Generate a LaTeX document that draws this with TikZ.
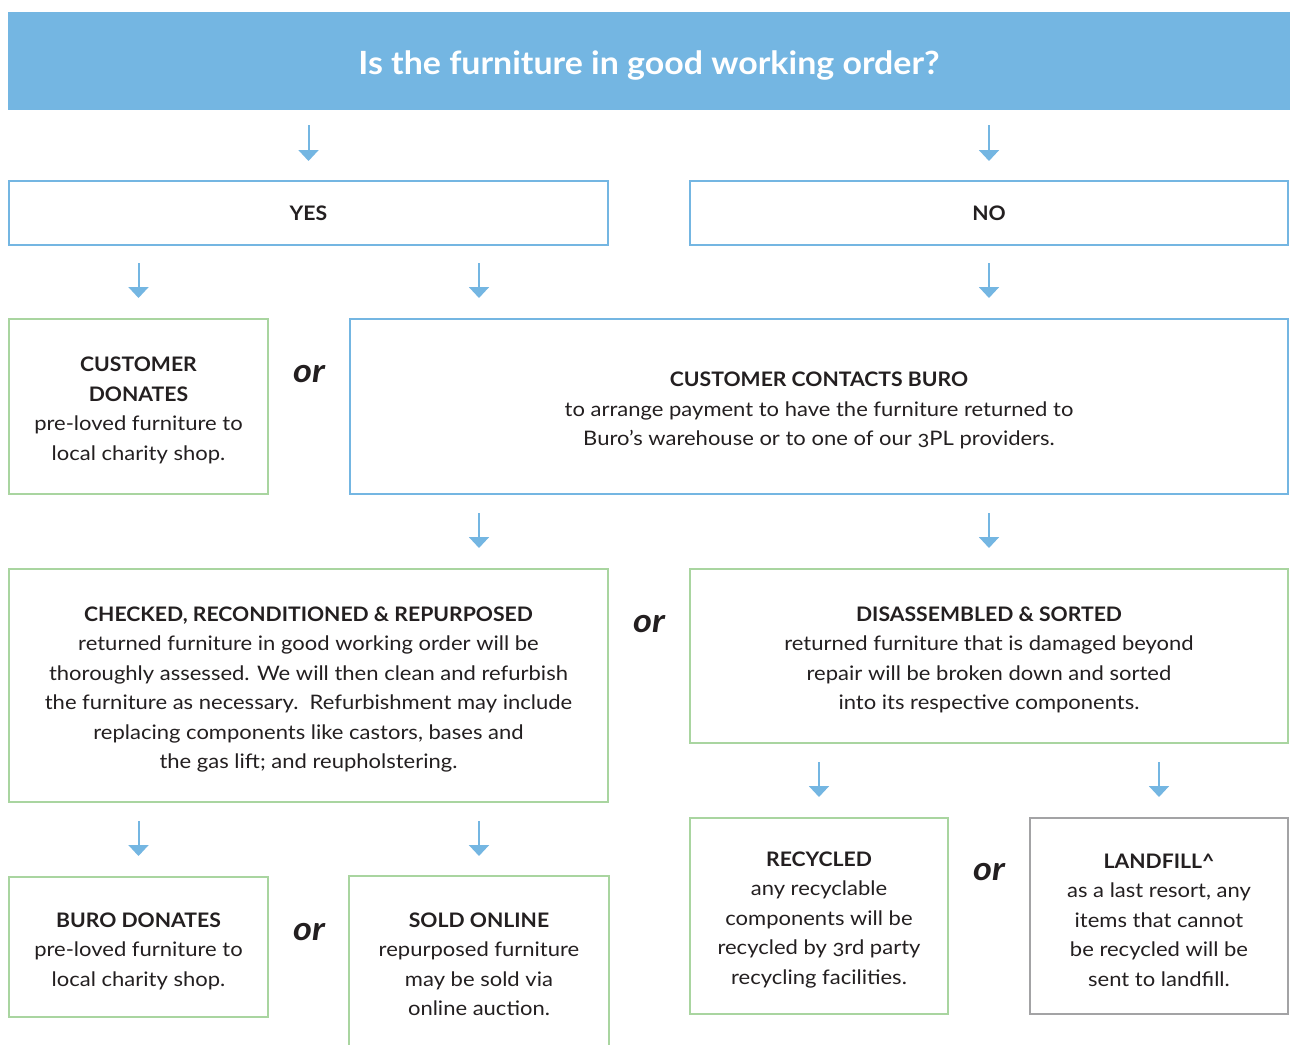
\documentclass[tikz,border=0pt]{standalone}
\usepackage{fontspec}
\setmainfont{Lato}[FakeStretch=1.1,Numbers=OldStyle,BoldFeatures={FakeStretch=1.06},BoldItalicFeatures={FakeStretch=1.1}]
\usetikzlibrary{arrows.meta,calc}
\definecolor{bl}{HTML}{74B6E2}
\definecolor{gr}{HTML}{A9D5A0}
\definecolor{gy}{HTML}{A3A3A5}
\definecolor{tx}{HTML}{231F20}
\newcommand{\topstrut}{\rule{0pt}{22.5pt}}
\begin{document}
\begin{tikzpicture}[x=1pt,y=-1pt,
  box/.style={line width=2pt, fill=white, align=center, text=tx, font=\fontsize{20}{29.5}\selectfont, inner sep=0pt},
  bluebox/.style={box, draw=bl},
  greenbox/.style={box, draw=gr},
  greybox/.style={box, draw=gy},
  arr/.style={draw=bl, line width=2pt, -{Triangle[width=20pt,length=11pt]}},
  ortext/.style={font=\fontsize{33}{33}\selectfont\bfseries\itshape, text=tx, inner sep=0pt}
]
\useasboundingbox (0,0) rectangle (1290,1044);
\fill[white] (0,0) rectangle (1290,1044);

\node[fill=bl, minimum width=1282, minimum height=98, inner sep=0pt, text=white, text depth=0pt, text height=26pt,
  font=\fontsize{32}{36}\selectfont\bfseries] (title) at (649,61) {Is the furniture in good working order?};

\node[bluebox, minimum width=599, minimum height=64] (yes) at (308.5,213) {\textbf{YES}};
\node[bluebox, minimum width=598, minimum height=64] (no) at (989,213) {\textbf{NO}};

\node[greenbox, minimum width=259, minimum height=175] (cd) at (138.5,406.5)
  {\topstrut\textbf{CUSTOMER}\\\textbf{DONATES}\\pre-loved furniture to\\local charity shop.};
\node[bluebox, minimum width=938, minimum height=175] (ccb) at (819,406.5)
  {\topstrut\textbf{CUSTOMER CONTACTS BURO}\\to arrange payment to have the furniture returned to\\Buro’s warehouse or to one of our 3PL providers.};

\node[greenbox, minimum width=599, minimum height=233] (chk) at (308.5,685.5)
  {\topstrut\textbf{CHECKED, RECONDITIONED \& REPURPOSED}\\returned furniture in good working order will be\\thoroughly assessed. We will then clean and refurbish\\the furniture as necessary.\ \ Refurbishment may include\\replacing components like castors, bases and\\the gas lift; and reupholstering.};
\node[greenbox, minimum width=598, minimum height=174] (dis) at (989,656)
  {\topstrut\textbf{DISASSEMBLED \& SORTED}\\returned furniture that is damaged beyond\\repair will be broken down and sorted\\into its respective components.};

\node[greenbox, minimum width=259, minimum height=140] (bd) at (138.5,947)
  {\topstrut\textbf{BURO DONATES}\\pre-loved furniture to\\local charity shop.};
\node[box, minimum width=258, minimum height=167] (so) at (479,960.5)
  {\topstrut\textbf{SOLD ONLINE}\\repurposed furniture\\may be sold via\\online auction.};
\draw[gr, line width=2pt] (so.south west) -- (so.north west) -- (so.north east) -- (so.south east);

\node[greenbox, minimum width=258, minimum height=196] (rec) at (819,916)
  {\topstrut\textbf{RECYCLED}\\any recyclable\\components will be\\recycled by 3rd party\\recycling facilities.};
\node[greybox, minimum width=258, minimum height=196] (lf) at (1159,916)
  {\topstrut\textbf{LANDFILL\textasciicircum}\\as a last resort, any\\items that cannot\\be recycled will be\\sent to landfill.};

\node[ortext] (or1) at (309,374) {or};
\node[ortext] (or2) at (649,624) {or};
\node[ortext] (or3) at (309,932) {or};
\node[ortext] (or4) at (989,872) {or};

\draw[arr] ($(title.south -| yes.north)+(0,15)$) -- ($(yes.north)+(0,-19)$);
\draw[arr] ($(title.south -| no.north)+(0,15)$) -- ($(no.north)+(0,-19)$);

\draw[arr] ($(yes.south -| cd.north)+(0,17)$) -- ($(cd.north)+(0,-20)$);
\draw[arr] ($(yes.south -| so.north)+(0,17)$) -- ($(ccb.north -| so.north)+(0,-20)$);
\draw[arr] ($(no.south)+(0,17)$) -- ($(ccb.north -| no.north)+(0,-20)$);

\draw[arr] ($(ccb.south -| so.north)+(0,18)$) -- ($(chk.north -| so.north)+(0,-20)$);
\draw[arr] ($(ccb.south -| dis.north)+(0,18)$) -- ($(dis.north)+(0,-20)$);

\draw[arr] ($(chk.south -| bd.north)+(0,18)$) -- ($(bd.north)+(0,-20)$);
\draw[arr] ($(chk.south -| so.north)+(0,18)$) -- ($(so.north)+(0,-20)$);
\draw[arr] ($(dis.south -| rec.north)+(0,18)$) -- ($(rec.north)+(0,-20)$);
\draw[arr] ($(dis.south -| lf.north)+(0,18)$) -- ($(lf.north)+(0,-20)$);
\end{tikzpicture}
\end{document}
